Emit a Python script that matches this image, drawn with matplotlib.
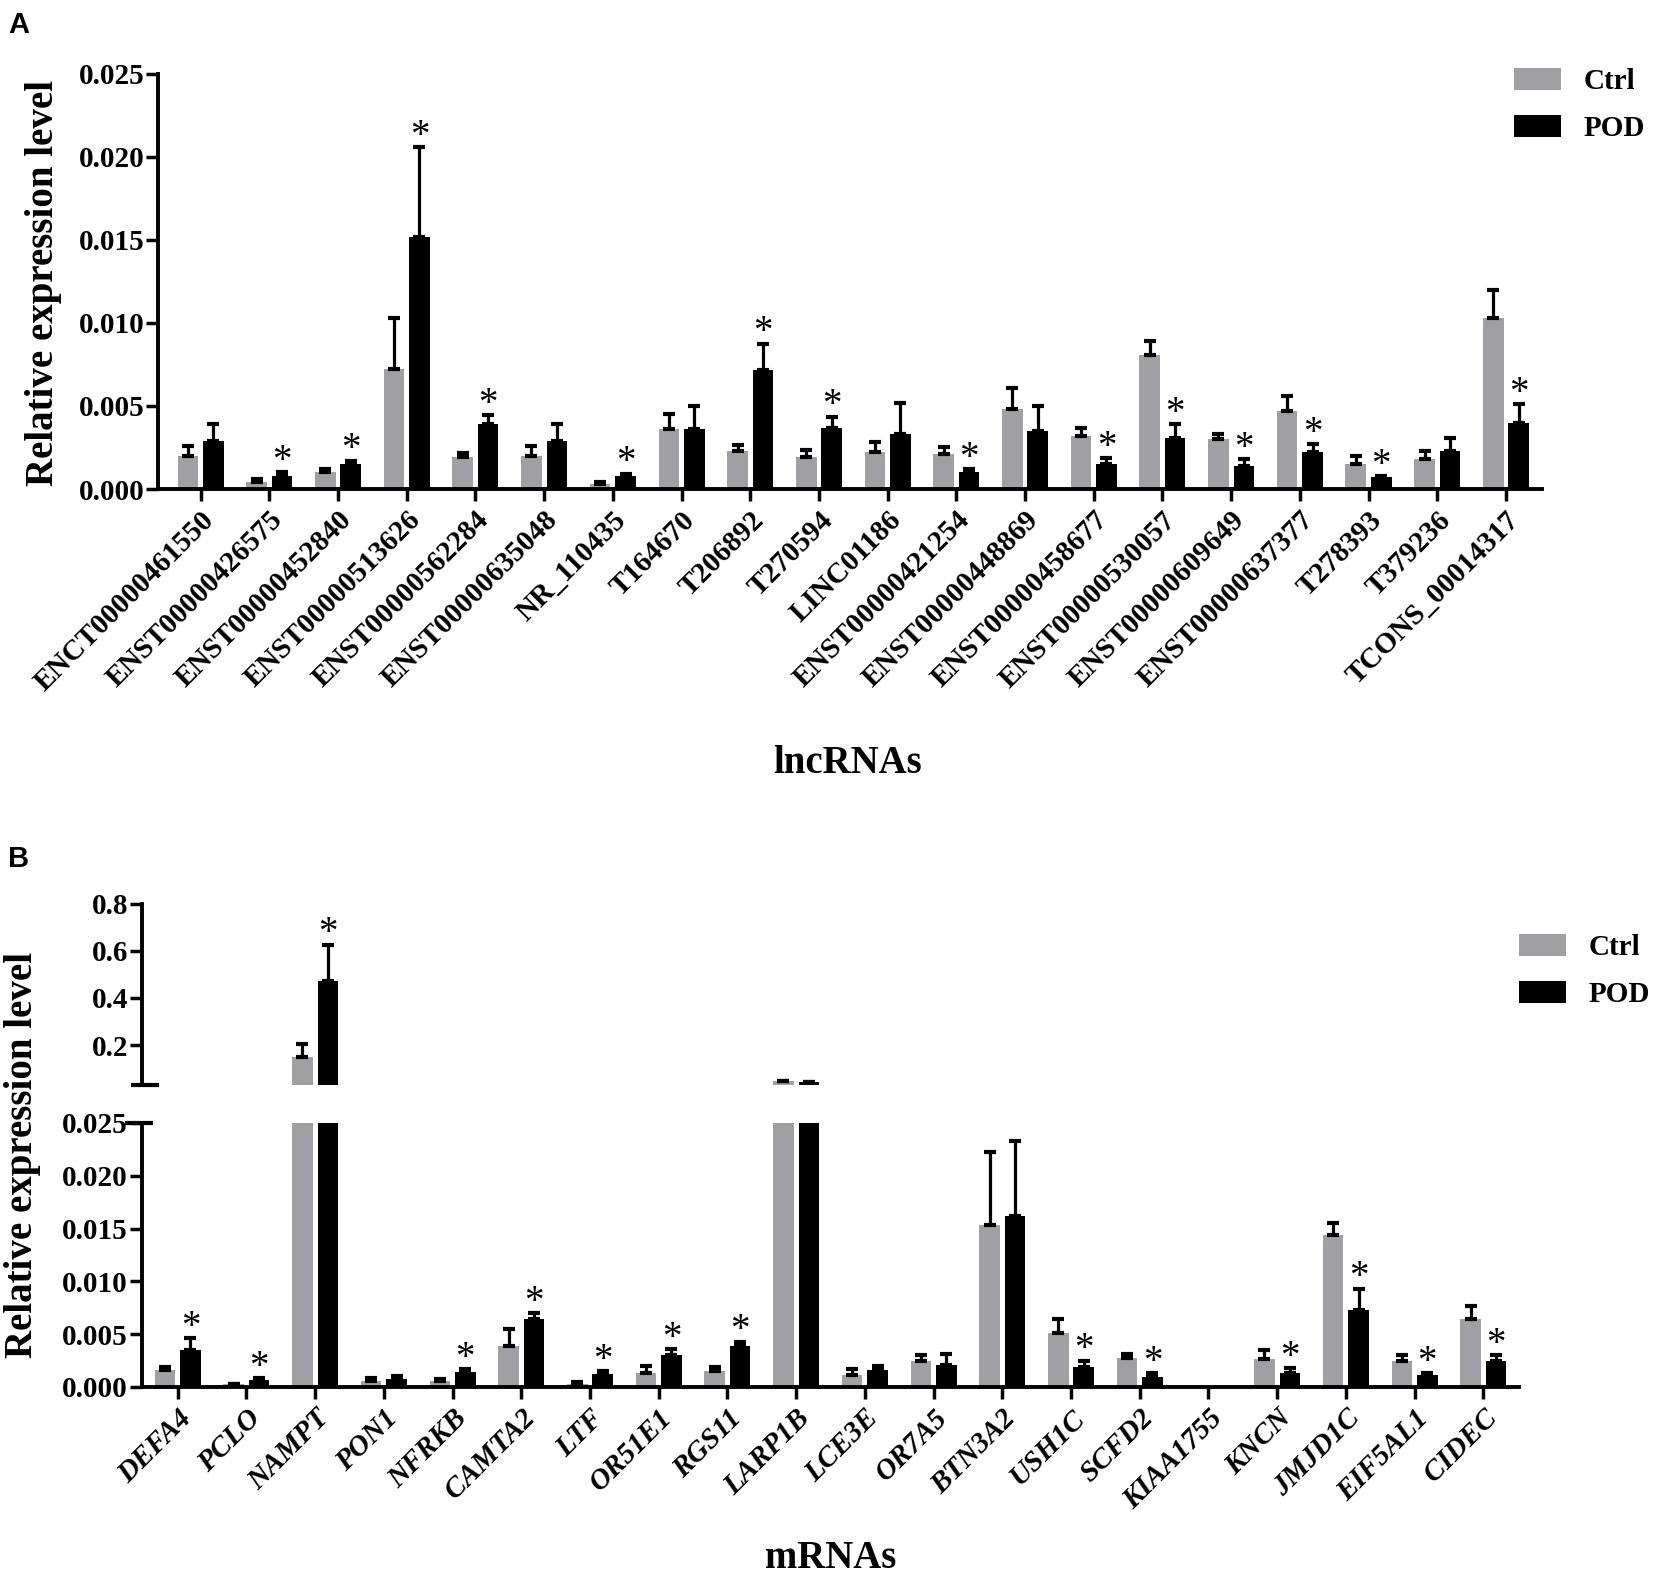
import numpy as np
import matplotlib
matplotlib.use("Agg")
import matplotlib.pyplot as plt
from matplotlib.patches import Patch

plt.rcParams['font.family'] = ['Liberation Serif', 'DejaVu Serif']
plt.rcParams['font.weight'] = 'bold'

# ---- panel A: lncRNAs ----
lnc_names = ['ENCT00000461550', 'ENST00000426575', 'ENST00000452840', 'ENST00000513626',
             'ENST00000562284', 'ENST00000635048', 'NR_110435', 'T164670', 'T206892',
             'T270594', 'LINC01186', 'ENST00000421254', 'ENST00000448869', 'ENST00000458677',
             'ENST00000530057', 'ENST00000609649', 'ENST00000637377', 'T278393', 'T379236',
             'TCONS_00014317']
lnc_ctrl = [0.0020, 0.0004, 0.00105, 0.0072, 0.00195, 0.0020, 0.0003, 0.0036, 0.0023, 0.0019,
            0.0022, 0.0021, 0.0048, 0.0032, 0.0081, 0.0030, 0.0047, 0.0015, 0.0018, 0.0103]
lnc_ctrl_err = [0.0006, 0.0002, 0.00017, 0.0031, 0.0002, 0.0006, 0.0001, 0.00094, 0.00034, 0.00043,
                0.00066, 0.00044, 0.0013, 0.0005, 0.0008, 0.0003, 0.0009, 0.0005, 0.0005, 0.0017]
lnc_pod = [0.0029, 0.0008, 0.0015, 0.0152, 0.0039, 0.0029, 0.00076, 0.0036, 0.00715, 0.0037,
           0.0033, 0.0010, 0.0035, 0.0015, 0.0031, 0.0014, 0.0022, 0.0007, 0.0023, 0.0040]
lnc_pod_err = [0.001, 0.0002, 0.0002, 0.0054, 0.00054, 0.001, 0.00016, 0.0014, 0.0016, 0.00065,
               0.0019, 0.00018, 0.0015, 0.00036, 0.0008, 0.00038, 0.0005, 0.00006, 0.0008, 0.0011]
lnc_sig = [0, 1, 1, 1, 1, 0, 1, 0, 1, 1, 0, 1, 0, 1, 1, 1, 1, 1, 0, 1]

# ---- panel B: mRNAs ----
m_names = ['DEFA4', 'PCLO', 'NAMPT', 'PON1', 'NFRKB', 'CAMTA2', 'LTF', 'OR51E1', 'RGS11',
           'LARP1B', 'LCE3E', 'OR7A5', 'BTN3A2', 'USH1C', 'SCFD2', 'KIAA1755', 'KNCN',
           'JMJD1C', 'EIF5AL1', 'CIDEC']
m_ctrl = [0.0016, 0.00025, 0.147, 0.00057, 0.00054, 0.0039, 0.00025, 0.0013, 0.0015, 0.045,
          0.00115, 0.0025, 0.0153, 0.0051, 0.00274, 0.0, 0.0026, 0.0144, 0.0025, 0.0064]
m_ctrl_err = [0.0003, 0.00005, 0.056, 0.0003, 0.0002, 0.0016, 0.00023, 0.0007, 0.0004, 0.004,
              0.00055, 0.0005, 0.0069, 0.0013, 0.00036, 0.0, 0.0009, 0.0011, 0.0005, 0.0013]
m_pod = [0.0035, 0.00064, 0.474, 0.00076, 0.00143, 0.0064, 0.0012, 0.0030, 0.00385, 0.044,
         0.0016, 0.0021, 0.0162, 0.0019, 0.0009, 0.0, 0.0013, 0.0073, 0.0011, 0.0025]
m_pod_err = [0.0011, 0.00016, 0.152, 0.00024, 0.00023, 0.0006, 0.0003, 0.0006, 0.00045, 0.0005,
             0.0004, 0.001, 0.0071, 0.0006, 0.0004, 0.0, 0.0005, 0.002, 0.0002, 0.0005]
m_sig = [1, 1, 1, 0, 1, 1, 1, 1, 1, 0, 0, 0, 0, 1, 1, 0, 1, 1, 1, 1]

GRAY = '#a0a0a4'
W = 0.3
OFF = 0.185
EKW = dict(elinewidth=2.3, capsize=4, capthick=3, ecolor='black')


def barras(ax, ctrl, ctrl_err, pod, pod_err, piso=0.0):
    # piso: valor minimo visible del eje; las barras de error por debajo no se dibujan
    x = np.arange(len(ctrl))
    ax.bar(x - OFF, ctrl, W, color=GRAY)
    ax.bar(x + OFF, pod, W, color='black')
    for xs, vals, errs in [(x - OFF, ctrl, ctrl_err), (x + OFF, pod, pod_err)]:
        sel = [i for i in range(len(vals)) if errs[i] > 0 and vals[i] + errs[i] > piso]
        ax.errorbar([xs[i] for i in sel], [vals[i] for i in sel],
                    yerr=[[0] * len(sel), [errs[i] for i in sel]], fmt='none', **EKW)


def estrellas(ax, pod, pod_err, sig, minimo=-1.0, maximo=1.0):
    for i in range(len(pod)):
        top = pod[i] + pod_err[i]
        if sig[i] and minimo < top <= maximo:
            ax.annotate('*', xy=(i + OFF, top), xytext=(0, 1), textcoords='offset points',
                        ha='center', va='baseline', fontsize=28, fontweight='normal',
                        annotation_clip=False)


def estilo(ax):
    for s in ['right', 'top']:
        ax.spines[s].set_visible(False)
    for s in ['left', 'bottom']:
        ax.spines[s].set_linewidth(2.8)
    ax.tick_params(axis='both', width=2.5, length=8.5, labelsize=21)
    ax.tick_params(axis='y', pad=1.5)
    for t in ax.get_yticklabels():
        t.set_fontweight('bold')


fig = plt.figure(figsize=(16.55, 15.8), dpi=100)

# panel A
axA = fig.add_axes([0.0955, 0.6905, 0.836, 0.2627])
barras(axA, lnc_ctrl, lnc_ctrl_err, lnc_pod, lnc_pod_err)
estrellas(axA, lnc_pod, lnc_pod_err, lnc_sig)
axA.set_xlim(-0.62, 19.52)
axA.set_ylim(0, 0.025)
axA.set_yticks([0, 0.005, 0.010, 0.015, 0.020, 0.025])
axA.set_yticklabels(['0.000', '0.005', '0.010', '0.015', '0.020', '0.025'])
axA.set_xticks(np.arange(len(lnc_names)))
axA.set_xticklabels(lnc_names, rotation=45, ha='right', va='top', rotation_mode='anchor',
                    fontsize=21, fontweight='bold')
estilo(axA)
axA.tick_params(axis='x', pad=4)

# panel B (eje partido)
axBt = fig.add_axes([0.0858, 0.3133, 0.832, 0.1146])
axBb = fig.add_axes([0.0858, 0.1222, 0.832, 0.1671])
barras(axBt, m_ctrl, m_ctrl_err, m_pod, m_pod_err, piso=0.03)
barras(axBb, m_ctrl, m_ctrl_err, m_pod, m_pod_err)
estrellas(axBt, m_pod, m_pod_err, m_sig, minimo=0.025)
estrellas(axBb, m_pod, m_pod_err, m_sig, maximo=0.025)

axBt.set_xlim(-0.52, 19.52)
axBb.set_xlim(-0.52, 19.52)
axBt.set_ylim(0.03, 0.8)
axBt.set_yticks([0.2, 0.4, 0.6, 0.8])
axBt.set_yticklabels(['0.2', '0.4', '0.6', '0.8'])
axBt.set_xticks([])
axBb.set_ylim(0, 0.025)
axBb.set_yticks([0, 0.005, 0.010, 0.015, 0.020, 0.025])
axBb.set_yticklabels(['0.000', '0.005', '0.010', '0.015', '0.020', '0.025'])
axBb.set_xticks(np.arange(len(m_names)))
axBb.set_xticklabels(m_names, rotation=45, ha='right', va='top', rotation_mode='anchor',
                     fontsize=22, fontweight='bold', fontstyle='italic')
estilo(axBt)
estilo(axBb)
axBt.spines['bottom'].set_visible(False)
axBt.tick_params(axis='x', length=0)
axBb.tick_params(axis='x', pad=4)
# marcas del corte del eje
axBt.plot([-0.008, 0.012], [0.03, 0.03], color='black', lw=3, transform=axBt.get_yaxis_transform(),
          clip_on=False, solid_capstyle='butt')
axBb.plot([-0.012, 0.008], [0.025, 0.025], color='black', lw=3, transform=axBb.get_yaxis_transform(),
          clip_on=False, solid_capstyle='butt')

# leyendas
handles = [Patch(facecolor=GRAY, label='Ctrl'), Patch(facecolor='black', label='POD')]
leg_kw = dict(frameon=False, borderpad=0, handlelength=1.6, handleheight=0.76,
              handletextpad=0.8, labelspacing=0.68, prop={'size': 21, 'weight': 'bold'})
fig.legend(handles=handles, loc='upper left', bbox_to_anchor=(0.906, 0.966), **leg_kw)
fig.legend(handles=handles, loc='upper left', bbox_to_anchor=(0.909, 0.418), **leg_kw)

# textos
fig.text(0.026, 0.821, 'Relative expression level', rotation=90, ha='center', va='center',
         fontsize=28, fontweight='bold')
fig.text(0.0135, 0.269, 'Relative expression level', rotation=90, ha='center', va='center',
         fontsize=28, fontweight='bold')
fig.text(0.512, 0.517, 'lncRNAs', ha='center', va='center', fontsize=28, fontweight='bold')
fig.text(0.502, 0.0135, 'mRNAs', ha='center', va='center', fontsize=28, fontweight='bold')
fig.text(0.005, 0.993, 'A', ha='left', va='top', fontsize=21, fontweight='bold',
         family='Liberation Sans')
fig.text(0.005, 0.465, 'B', ha='left', va='top', fontsize=21, fontweight='bold',
         family='Liberation Sans')

fig.savefig('out.png', dpi=100)
